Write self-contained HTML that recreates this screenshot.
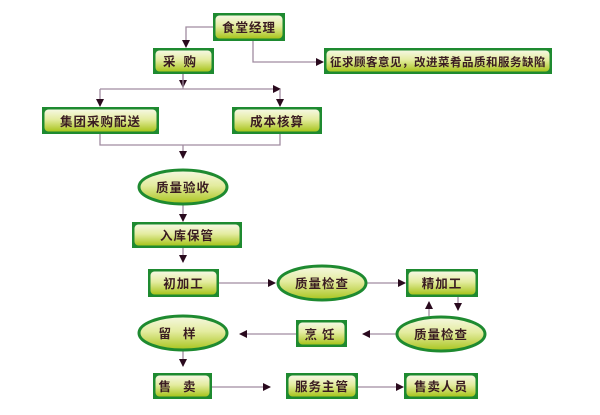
<!DOCTYPE html>
<html><head><meta charset="utf-8"><style>
html,body{margin:0;padding:0;background:#fff;width:600px;height:415px;overflow:hidden}
text{font-family:"Liberation Sans","Noto Sans CJK SC",sans-serif;font-size:12.5px;font-weight:bold;fill:#3a1c22;letter-spacing:1px}
</style></head><body>
<svg width="600" height="415" viewBox="0 0 600 415" xmlns="http://www.w3.org/2000/svg">
<defs>
<linearGradient id="g" x1="0" y1="0" x2="0" y2="1">
<stop offset="0" stop-color="#f6f8e2"/><stop offset="0.45" stop-color="#e4eca0"/><stop offset="1" stop-color="#a8c41c"/>
</linearGradient>
<marker id="a" markerWidth="8" markerHeight="8" refX="7" refY="4" orient="auto" markerUnits="userSpaceOnUse">
<path d="M0,0 L8,4 L0,8 z" fill="#2a0a1e"/></marker>
</defs>
<g stroke="#a08ca0" stroke-width="1.3" fill="none" marker-end="url(#a)">
<path d="M213,27 H186 V47"/>
<path d="M253,41 V62 H323"/>
<path d="M183,74 V87"/>
<path d="M100,89 H280"/>
<path d="M100,89 V106"/>
<path d="M280,89 V106"/>
<path d="M183,145 V158"/>
<path d="M183,204 V221"/>
<path d="M183,248 V262"/>
<path d="M219,283 H275"/>
<path d="M367,283 H405"/>
<path d="M458,297 V310"/>
<path d="M429,316 V302"/>
<path d="M398,334 H363"/>
<path d="M296,334 H240"/>
<path d="M183,351 V366"/>
<path d="M212,387 H270"/>
<path d="M358,387 H403"/>
</g>
<g stroke="#a08ca0" stroke-width="1.3" fill="none">
<path d="M100,134 V145 H280 V134"/>
<path d="M183,74 V89"/>
</g>
<g>
<!-- boxes -->
<g>
<rect x="213" y="13" width="72" height="28" fill="#1e8a30"/><rect x="215.5" y="15.5" width="67" height="23" rx="4" fill="url(#g)"/>
<text x="249" y="32" text-anchor="middle">食堂经理</text>
</g>
<g>
<rect x="153" y="48" width="61" height="26" fill="#1e8a30"/><rect x="155.5" y="50.5" width="56" height="21" rx="4" fill="url(#g)"/>
<text x="183.5" y="66" text-anchor="middle" style="letter-spacing:8px">采购</text>
</g>
<g>
<rect x="324" y="48" width="228" height="26" fill="#1e8a30"/><rect x="326.5" y="50.5" width="223" height="21" rx="4" fill="url(#g)"/>
<text x="438" y="66" text-anchor="middle" style="font-size:11.5px;letter-spacing:0.5px">征求顾客意见，改进菜肴品质和服务缺陷</text>
</g>
<g>
<rect x="42" y="107" width="117" height="27" fill="#1e8a30"/><rect x="44.5" y="109.5" width="112" height="22" rx="4" fill="url(#g)"/>
<text x="100.5" y="126" text-anchor="middle">集团采购配送</text>
</g>
<g>
<rect x="232" y="107" width="90" height="27" fill="#1e8a30"/><rect x="234.5" y="109.5" width="85" height="22" rx="4" fill="url(#g)"/>
<text x="277" y="126" text-anchor="middle">成本核算</text>
</g>
<g>
<ellipse cx="183" cy="187" rx="44" ry="17" fill="url(#g)" stroke="#1e8a30" stroke-width="3"/>
<text x="183" y="192" text-anchor="middle">质量验收</text>
</g>
<g>
<rect x="132" y="222" width="110" height="26" fill="#1e8a30"/><rect x="134.5" y="224.5" width="105" height="21" rx="4" fill="url(#g)"/>
<text x="187" y="240" text-anchor="middle">入库保管</text>
</g>
<g>
<rect x="148" y="269" width="71" height="28" fill="#1e8a30"/><rect x="150.5" y="271.5" width="66" height="23" rx="4" fill="url(#g)"/>
<text x="183.5" y="288" text-anchor="middle">初加工</text>
</g>
<g>
<ellipse cx="322" cy="283" rx="44" ry="17" fill="url(#g)" stroke="#1e8a30" stroke-width="3"/>
<text x="322" y="288" text-anchor="middle">质量检查</text>
</g>
<g>
<rect x="406" y="269" width="72" height="28" fill="#1e8a30"/><rect x="408.5" y="271.5" width="67" height="23" rx="4" fill="url(#g)"/>
<text x="442" y="288" text-anchor="middle">精加工</text>
</g>
<g>
<ellipse cx="441" cy="334" rx="44" ry="17" fill="url(#g)" stroke="#1e8a30" stroke-width="3"/>
<text x="441" y="339" text-anchor="middle">质量检查</text>
</g>
<g>
<rect x="296" y="320" width="51" height="27" fill="#1e8a30"/><rect x="298.5" y="322.5" width="46" height="22" rx="4" fill="url(#g)"/>
<text x="322" y="339" text-anchor="middle" style="letter-spacing:5px">烹饪</text>
</g>
<g>
<ellipse cx="183" cy="333" rx="44" ry="17" fill="url(#g)" stroke="#1e8a30" stroke-width="3"/>
<text x="183" y="338" text-anchor="middle" style="letter-spacing:12px">留样</text>
</g>
<g>
<rect x="153" y="373" width="59" height="26" fill="#1e8a30"/><rect x="155.5" y="375.5" width="54" height="21" rx="4" fill="url(#g)"/>
<text x="183" y="391" text-anchor="middle" style="letter-spacing:12px">售卖</text>
</g>
<g>
<rect x="286" y="373" width="72" height="26" fill="#1e8a30"/><rect x="288.5" y="375.5" width="67" height="21" rx="4" fill="url(#g)"/>
<text x="322" y="391" text-anchor="middle">服务主管</text>
</g>
<g>
<rect x="404" y="373" width="74" height="26" fill="#1e8a30"/><rect x="406.5" y="375.5" width="69" height="21" rx="4" fill="url(#g)"/>
<text x="441" y="391" text-anchor="middle">售卖人员</text>
</g>
</g>
</svg>
</body></html>
